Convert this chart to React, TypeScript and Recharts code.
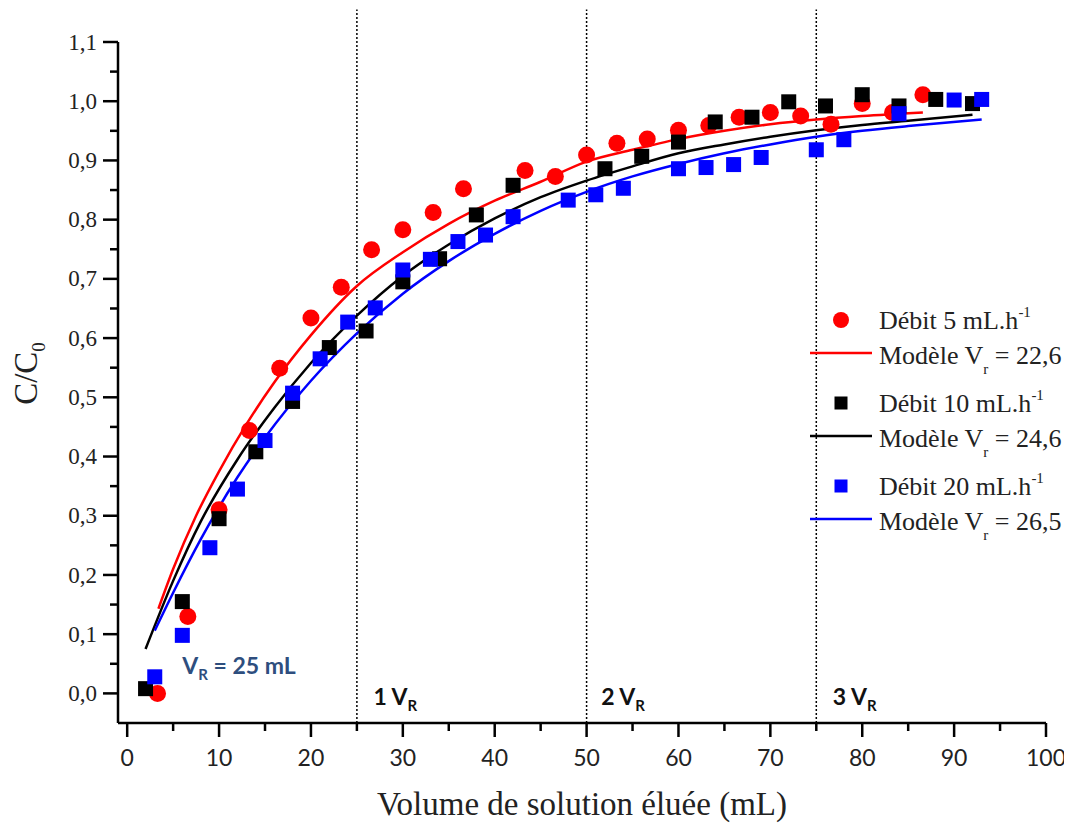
import React from 'react'
import { ComposedChart, Scatter, Line, XAxis, YAxis, ReferenceLine, ReferenceDot, Legend, Label } from 'recharts'

// measured points, Débit 5 mL/h
const red5X = [3.3, 6.6, 10, 13.3, 16.6, 20, 23.3, 26.6, 30, 33.3, 36.6, 43.3, 46.6, 50, 53.3, 56.6, 60, 63.3, 66.6, 70, 73.3, 76.6, 80, 83.3, 86.6]
const red5Y = [0.0, 0.13, 0.31, 0.444, 0.549, 0.634, 0.686, 0.749, 0.783, 0.812, 0.852, 0.883, 0.873, 0.909, 0.929, 0.936, 0.951, 0.959, 0.973, 0.981, 0.975, 0.961, 0.996, 0.981, 1.011]

// Débit 10 mL/h
const black10X = [2, 6, 10, 14, 18, 22, 26, 30, 34, 38, 42, 52, 56, 60, 64, 68, 72, 76, 80, 84, 88, 92]
const black10Y = [0.008, 0.155, 0.295, 0.408, 0.493, 0.584, 0.612, 0.695, 0.734, 0.808, 0.858, 0.886, 0.907, 0.931, 0.965, 0.973, 0.999, 0.992, 1.011, 0.992, 1.003, 0.996]

// Débit 20 mL/h
const blue20X = [3, 6, 9, 12, 15, 18, 21, 24, 27, 30, 33, 36, 39, 42, 48, 51, 54, 60, 63, 66, 69, 75, 78, 84, 90, 93]
const blue20Y = [0.028, 0.098, 0.246, 0.345, 0.427, 0.507, 0.565, 0.627, 0.651, 0.715, 0.733, 0.763, 0.774, 0.805, 0.833, 0.842, 0.853, 0.886, 0.888, 0.893, 0.905, 0.918, 0.935, 0.979, 1.002, 1.003]

// model curves
const redModelX = [3.4, 5, 7.5, 10, 13, 16, 20, 25, 30, 35, 40, 45, 50, 55, 60, 65, 70, 75, 80, 86.6]
const redModelY = [0.143, 0.21, 0.3, 0.375, 0.455, 0.525, 0.605, 0.688, 0.745, 0.793, 0.832, 0.864, 0.898, 0.918, 0.936, 0.95, 0.961, 0.969, 0.975, 0.981]

const blackModelX = [2, 5, 8, 12, 16, 20, 25, 30, 35, 40, 45, 50, 55, 60, 65, 70, 75, 80, 85, 92]
const blackModelY = [0.075, 0.19, 0.29, 0.395, 0.482, 0.558, 0.638, 0.705, 0.758, 0.802, 0.838, 0.866, 0.89, 0.912, 0.927, 0.94, 0.951, 0.96, 0.967, 0.977]

const blueModelX = [3, 5, 8, 12, 15, 20, 25, 30, 35, 40, 45, 50, 55, 60, 65, 70, 75, 80, 85, 93]
const blueModelY = [0.106, 0.17, 0.26, 0.365, 0.432, 0.528, 0.608, 0.675, 0.73, 0.776, 0.815, 0.847, 0.873, 0.894, 0.912, 0.927, 0.94, 0.95, 0.958, 0.969]

const xTicks = [0, 5, 10, 15, 20, 25, 30, 35, 40, 45, 50, 55, 60, 65, 70, 75, 80, 85, 90, 95, 100]
const yTicks = [0, 0.05, 0.1, 0.15, 0.2, 0.25, 0.3, 0.35, 0.4, 0.45, 0.5, 0.55, 0.6, 0.65, 0.7, 0.75, 0.8, 0.85, 0.9, 0.95, 1.0, 1.05, 1.1]
const vrMarks = [25, 50, 75]

const zip = (xs: number[], ys: number[]) => xs.map((x, i) => ({ x, y: ys[i] }))

const RED = '#ff0000'
const BLUE = '#0000ff'
const SERIF = "'Liberation Serif', serif"
const BOLD_SANS = "Lato, 'Open Sans', sans-serif"

const W = 1064
const H = 822

const XTick = (props: any) => {
  const { x, y, payload } = props
  const major = Math.round(payload.value) % 10 === 0
  return (
    <g>
      <line x1={x} x2={x} y1={y} y2={y + (major ? 14 : 8)} stroke="#000" strokeWidth={2.5} />
      {major && (
        <text x={x} y={y + 43} textAnchor="middle" fontFamily="Lato, 'Open Sans', sans-serif" fontSize={23} fill="#222">
          {payload.value}
        </text>
      )}
    </g>
  )
}

const YTick = (props: any) => {
  const { x, y, payload } = props
  const major = Math.round(payload.value * 100) % 10 === 0
  return (
    <g>
      <line x1={x} x2={x - (major ? 15 : 8)} y1={y} y2={y} stroke="#000" strokeWidth={2.5} />
      {major && (
        <text x={x - 21} y={y} dy="0.33em" textAnchor="end" fontFamily={SERIF} fontSize={23} fill="#222">
          {payload.value.toFixed(1).replace('.', ',')}
        </text>
      )}
    </g>
  )
}

const circleShape = (p: any) => <circle cx={p.cx} cy={p.cy} r={8.5} fill={RED} />
const squareShape = (color: string) => (p: any) => (
  <rect x={p.cx - 7.5} y={p.cy - 7.5} width={15} height={15} fill={color} />
)

const vrText = (n: string) => (p: any) => (
  <text x={p.cx} y={p.cy} fontFamily={BOLD_SANS} fontWeight={700} fontSize={23} fill="#111">
    {n} V<tspan fontSize={15} dy={6}>R</tspan>
  </text>
)

const LegendBox = () => {
  const t = { fontFamily: SERIF, fontSize: 26, fill: '#222' }
  const debit = (y: number, d: string) => (
    <text x={81} y={y} {...t}>
      Débit {d} mL.h<tspan fontSize={15} dy={-12}>-1</tspan>
    </text>
  )
  const model = (y: number, v: string) => (
    <text x={81} y={y} {...t}>
      Modèle V<tspan fontSize={15} dy={10}>r</tspan>
      <tspan dy={-10}> = {v}</tspan>
    </text>
  )
  return (
    <svg width={272} height={250}>
      <circle cx={43} cy={22} r={8} fill={RED} />
      {debit(31, '5')}
      <line x1={12} x2={74} y1={55} y2={55} stroke={RED} strokeWidth={2.5} />
      {model(66, '22,6')}
      <rect x={36.5} y={98.5} width={13} height={13} fill="#000" />
      {debit(114, '10')}
      <line x1={12} x2={74} y1={138} y2={138} stroke="#000" strokeWidth={2.5} />
      {model(149, '24,6')}
      <rect x={36.5} y={181.5} width={13} height={13} fill={BLUE} />
      {debit(197, '20')}
      <line x1={12} x2={74} y1={221} y2={221} stroke={BLUE} strokeWidth={2.5} />
      {model(232, '26,5')}
    </svg>
  )
}

export default function App() {
  return (
    <div style={{ width: W, height: H, position: 'relative' }}>
      <ComposedChart width={W} height={H} margin={{ top: 34, right: 26, left: 20, bottom: 47 }}>
        <XAxis
          type="number"
          dataKey="x"
          domain={[-1, 100]}
          ticks={xTicks}
          interval={0}
          height={60}
          tickSize={0}
          tickMargin={0}
          tickLine={false}
          tick={<XTick />}
          axisLine={{ stroke: '#000', strokeWidth: 2.5 }}
          allowDataOverflow
        >
          <Label
            content={(p: any) => {
              const vb = p.viewBox
              return (
                <text x={vb.x + vb.width / 2} y={vb.y + 92} textAnchor="middle" fontFamily={SERIF} fontSize={33} fill="#222">
                  Volume de solution éluée (mL)
                </text>
              )
            }}
          />
        </XAxis>
        <YAxis
          type="number"
          dataKey="y"
          domain={[-0.05, 1.1]}
          ticks={yTicks}
          interval={0}
          width={90}
          tickSize={0}
          tickMargin={0}
          tickLine={false}
          tick={<YTick />}
          axisLine={{ stroke: '#000', strokeWidth: 2.5 }}
          allowDataOverflow
        >
          <Label
            content={(p: any) => {
              const vb = p.viewBox
              const cx = vb.x - 3
              const cy = vb.y + vb.height / 2 - 9
              return (
                <text transform={`translate(${cx},${cy}) rotate(-90)`} textAnchor="middle" dy="0.35em" fontFamily={SERIF} fontSize={33} fill="#222">
                  C/C<tspan fontSize={19} dy={8}>0</tspan>
                </text>
              )
            }}
          />
        </YAxis>

        {vrMarks.map((v) => (
          <ReferenceLine
            key={v}
            segment={[{ x: v, y: -0.05 }, { x: v, y: 1.155 }]}
            stroke="#000"
            strokeWidth={1.5}
            strokeDasharray="2 2"
            ifOverflow="visible"
          />
        ))}

        <Scatter data={zip(red5X, red5Y)} dataKey="y" shape={circleShape} isAnimationActive={false} />
        <Line data={zip(redModelX, redModelY)} dataKey="y" type="monotone" stroke={RED} strokeWidth={2.5} dot={false} activeDot={false} isAnimationActive={false} />
        <Scatter data={zip(black10X, black10Y)} dataKey="y" shape={squareShape('#000')} isAnimationActive={false} />
        <Line data={zip(blackModelX, blackModelY)} dataKey="y" type="monotone" stroke="#000" strokeWidth={2.5} dot={false} activeDot={false} isAnimationActive={false} />
        <Scatter data={zip(blue20X, blue20Y)} dataKey="y" shape={squareShape(BLUE)} isAnimationActive={false} />
        <Line data={zip(blueModelX, blueModelY)} dataKey="y" type="monotone" stroke={BLUE} strokeWidth={2.5} dot={false} activeDot={false} isAnimationActive={false} />

        <ReferenceDot
          x={6}
          y={0.032}
          ifOverflow="visible"
          shape={(p: any) => (
            <text x={p.cx} y={p.cy} fontFamily={BOLD_SANS} fontWeight={700} fontSize={23} fill="#2e4e7e">
              V<tspan fontSize={15} dy={6}>R</tspan>
              <tspan dy={-6}> = 25 mL</tspan>
            </text>
          )}
        />
        <ReferenceDot x={26.8} y={-0.02} ifOverflow="visible" shape={vrText('1')} />
        <ReferenceDot x={51.6} y={-0.02} ifOverflow="visible" shape={vrText('2')} />
        <ReferenceDot x={76.8} y={-0.02} ifOverflow="visible" shape={vrText('3')} />

        <Legend
          layout="vertical"
          align="center"
          verticalAlign="middle"
          content={() => <LegendBox />}
          wrapperStyle={{ left: 790, top: 290, width: 272, height: 250 }}
        />
      </ComposedChart>
    </div>
  )
}
